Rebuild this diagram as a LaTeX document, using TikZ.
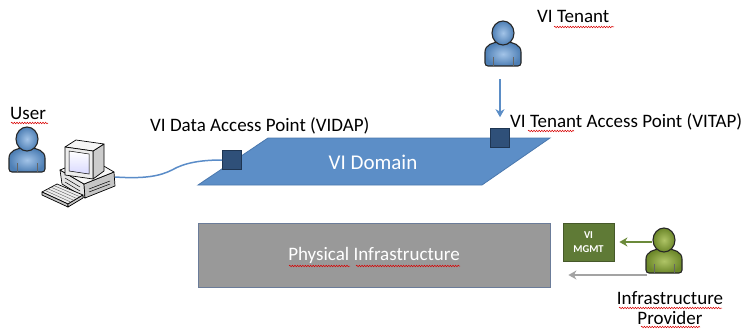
\documentclass[tikz,border=0pt]{standalone}
\usepackage{fontspec}
\setmainfont{Carlito}
\usetikzlibrary{arrows.meta,decorations.pathmorphing,calc}
\definecolor{domainfill}{HTML}{5C8EC7}
\definecolor{domainedge}{HTML}{4A78AE}
\definecolor{apfill}{HTML}{2F5079}
\definecolor{apedge}{HTML}{1E3552}
\definecolor{physfill}{HTML}{999999}
\definecolor{physedge}{HTML}{6B7C99}
\definecolor{mgmtfill}{HTML}{5F7A36}
\definecolor{mgmtedge}{HTML}{46592A}
\definecolor{bluein}{HTML}{A3C4E8}
\definecolor{blueout}{HTML}{4E7FB5}
\definecolor{greenin}{HTML}{AFC466}
\definecolor{greenout}{HTML}{6C872A}
\definecolor{cable}{HTML}{5A8CC8}
\definecolor{arrowblue}{HTML}{5B8DC6}
\definecolor{arrowgreen}{HTML}{6B8A3A}
\definecolor{arrowgray}{HTML}{A3A3A3}
\begin{document}
\begin{tikzpicture}[x=1pt,y=-1pt,
  label/.style={inner sep=0pt, font=\fontsize{19}{23}\selectfont, text=black},
  accesspt/.style={draw=apedge, fill=apfill, line width=0.6pt, minimum size=19pt, inner sep=0pt},
  bluefig/.style={draw=black!85, line width=1.1pt, inner color=bluein, outer color=blueout},
  greenfig/.style={draw=black!85, line width=1.1pt, inner color=greenin, outer color=greenout},
  flow/.style={line width=2.2pt, -{Stealth[length=8pt,width=9pt,inset=2.5pt]}},
  spell/.style={draw=red!85!black, line width=0.5pt, decorate,
    decoration={snake, amplitude=0.8pt, segment length=2.6pt}},
  hw/.style={draw=black, line width=0.7pt, line join=round},
  person/.pic={
    \path[pic actions, rounded corners=3pt] (-18,33) -- (-18,22)
      .. controls (-18,12) and (-10,9) .. (0,9)
      .. controls (10,9) and (18,12) .. (18,22) -- (18,33) -- cycle;
    \draw[black!60, line width=0.4pt] (-10,24) -- (-10,33) (10,24) -- (10,33);
    \path[pic actions] (0,0) ellipse[x radius=11, y radius=12];
  }
]
\useasboundingbox (0,0) rectangle (744,329);

% ---- VI domain plane with its two access points
\path[draw=domainedge, fill=domainfill, line width=0.8pt]
  (268,138) -- (550,138) -- (482,185) -- (198,185) -- cycle;
\node[inner sep=0pt, text=white, font=\fontsize{21}{25}\selectfont] (domain) at (373,162) {VI Domain};
\node[accesspt] (vidap) at (232,160) {};
\node[accesspt] (vitap) at (500,138) {};
\node[label, anchor=base west] (vidaplbl) at (150,131) {VI Data Access Point (VIDAP)};
\node[label, anchor=base west] (vitaplbl) at (510,127) {VI Tenant Access Point (VITAP)};

% ---- physical layer and management
\node[draw=physedge, fill=physfill, line width=0.8pt, minimum width=352pt, minimum height=64pt,
  text=white, font=\fontsize{19}{23}\selectfont] (phys) at (374,255) {Physical Infrastructure};
\node[draw=mgmtedge, fill=mgmtfill, line width=0.8pt, minimum width=51pt, minimum height=38pt,
  inner sep=0pt, align=center, text=white, font=\fontsize{10.5}{14}\selectfont\bfseries] (mgmt) at (588.5,242) {VI\\MGMT};

% ---- people
\pic[bluefig] (user) at (27,139) {person};
\pic[bluefig] (tenant) at (503,33) {person};
\pic[greenfig] (provider) at (664,240) {person};
\node[label, anchor=base west] (userlbl) at (10,119) {User};
\node[label, anchor=base west] (tenantlbl) at (537,23) {VI Tenant};
\node[label, anchor=base] (providerlbl1) at (670,304) {Infrastructure};
\node[label, anchor=base] (providerlbl2) at (670,324) {Provider};

% ---- desktop computer: case, monitor, keyboard
\path[hw, fill=gray!22] (60,170) -- (84,184) -- (85,198) -- (62,184) -- cycle;
\path[hw, fill=gray!45] (84,184) -- (114,172) -- (115,186) -- (85,198) -- cycle;
\path[hw, fill=gray!6] (60,170) -- (90,158) -- (114,172) -- (84,184) -- cycle;
\draw[black, line width=0.5pt] (65,178) -- (80,187) (65,182) -- (80,191) (89,189) -- (110,181) (89,192) -- (110,184);
\path[hw, fill=gray!40] (93,151) -- (104,144) -- (104,171) -- (93,179) -- cycle;
\path[hw, fill=gray!8] (65,147) -- (76,140) -- (104,144) -- (93,151) -- cycle;
\path[hw, fill=gray!15] (65,147) -- (93,151) -- (93,179) -- (65,175) -- cycle;
\path[draw=black, line width=0.5pt, top color=white, bottom color=blue!15]
  (69,151) -- (89,154) -- (89,174) -- (69,171) -- cycle;
\path[hw, fill=gray!15] (42,192) -- (57,184) -- (83,195) -- (68,204) -- cycle;
\path[hw, fill=gray!45] (42,192) -- (68,204) -- (68,207) -- (42,195) -- cycle;
\path[hw, fill=gray!45] (68,204) -- (83,195) -- (83,198) -- (68,207) -- cycle;
\foreach \k in {0.2,0.4,0.6,0.8}
  \draw[black!70, line width=0.35pt] ($(42,192)!\k!(57,184)$) -- ($(68,204)!\k!(83,195)$);
\coordinate (pcport) at (115,177);

% ---- connectors
\draw[cable, line width=1.5pt] (pcport) .. controls (145,179) and (160,176) .. (172,170)
  .. controls (184,163) and (200,160) .. (vidap.west);
\coordinate (tenantfoot) at (500,79);
\draw[flow, arrowblue, line width=1.6pt] (tenantfoot) -- ([yshift=11pt]vitap.north);
\coordinate (providerhand) at (652,242);
\coordinate (providerbase) at (647,275);
\draw[flow, arrowgreen] (providerhand) -- ([xshift=5pt]mgmt.east);
\draw[flow, arrowgray] (providerbase) -- ([xshift=18pt]phys.east |- providerbase);

% ---- spelling marks under words
\draw[spell] (11,123) -- (48,123);
\draw[spell] (554,27) -- (614,27);
\draw[spell] (528,131) -- (574,131);
\draw[spell] (289,266) -- (350,266);
\draw[spell] (356,266) -- (460,266);
\draw[spell] (619,308) -- (722,308);
\draw[spell] (641,327) -- (700,327);
\end{tikzpicture}
\end{document}
